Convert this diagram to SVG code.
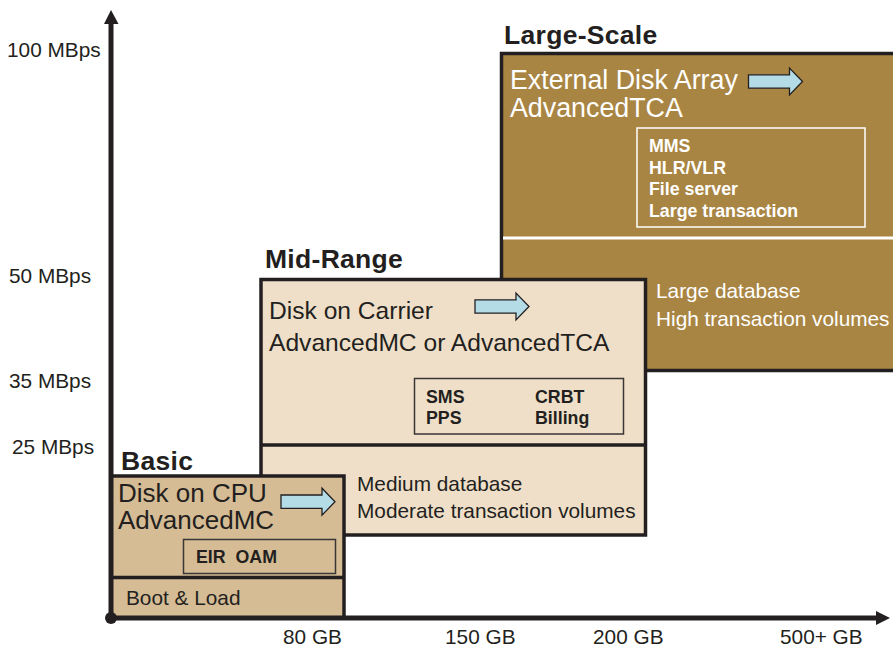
<svg xmlns="http://www.w3.org/2000/svg" width="893" height="648" viewBox="0 0 893 648">
<style>
text{font-family:"Liberation Sans",Arial,sans-serif;fill:#231F20}
.ax{font-size:20.8px}
.ttl{font-size:26.5px;font-weight:bold;letter-spacing:0.3px}
.big{font-size:26.8px}
.bas{font-size:26px}
.mid{font-size:24.6px}
.med{font-size:20.8px}
.b{font-size:17.8px;font-weight:bold}
.w{fill:#FFFFFF}
.box{stroke:#231F20;stroke-width:3.5}
.barrow{fill:#B3DCE7;stroke:#231F20;stroke-width:1.3}
</style>
<defs>
<path id="blk" d="M0,-6.7H41V-13.5L54,0L41,13.5V6.7H0Z"/>
</defs>
<rect width="893" height="648" fill="#FFFFFF"/>

<g id="large-scale">
<text class="ttl" x="504" y="44">Large-Scale</text>
<rect class="box" x="501.5" y="53.5" width="400" height="317" fill="#A98543" stroke-width="3"/>
<line x1="503" y1="238" x2="893" y2="238" stroke="#FFFFFF" stroke-width="3"/>
<text class="big w" x="510" y="89">External Disk Array</text>
<text class="big w" x="510" y="117">AdvancedTCA</text>
<use href="#blk" class="barrow" x="748.5" y="81.5"/>
<rect x="637" y="128" width="228" height="99" fill="none" stroke="#FFFFFF" stroke-width="1.5"/>
<text class="b w" x="649" y="152">MMS</text>
<text class="b w" x="649" y="173.5">HLR/VLR</text>
<text class="b w" x="649" y="195">File server</text>
<text class="b w" x="649" y="217">Large transaction</text>
<text class="med w" x="656" y="298">Large database</text>
<text class="med w" x="656" y="326">High transaction volumes</text>
</g>

<g id="mid-range">
<text class="ttl" x="265" y="268">Mid-Range</text>
<rect class="box" x="261" y="279.5" width="384.5" height="255.5" fill="#EFDFC8"/>
<line x1="261" y1="445" x2="645.5" y2="445" stroke="#231F20" stroke-width="3.5"/>
<text class="mid" x="269" y="319">Disk on Carrier</text>
<text class="mid" x="269" y="351">AdvancedMC or AdvancedTCA</text>
<use href="#blk" class="barrow" x="475" y="306.5"/>
<rect x="414.5" y="378.5" width="209" height="55.5" fill="none" stroke="#3A3536" stroke-width="1.5"/>
<text class="b" x="426" y="403">SMS</text>
<text class="b" x="426" y="424">PPS</text>
<text class="b" x="535" y="403">CRBT</text>
<text class="b" x="535" y="424">Billing</text>
<text class="med" x="357" y="491">Medium database</text>
<text class="med" x="357" y="518">Moderate transaction volumes</text>
</g>

<g id="basic">
<text class="ttl" x="121" y="470">Basic</text>
<rect class="box" x="111" y="476" width="233" height="142" fill="#D5BC95"/>
<line x1="111" y1="577.5" x2="344" y2="577.5" stroke="#231F20" stroke-width="3.5"/>
<text class="bas" x="118" y="502">Disk on CPU</text>
<text class="bas" x="118" y="529">AdvancedMC</text>
<use href="#blk" class="barrow" x="281" y="501.7"/>
<rect x="183.5" y="539.5" width="152" height="34" fill="none" stroke="#3A3536" stroke-width="1.5"/>
<text class="b" x="196" y="563" xml:space="preserve">EIR  OAM</text>
<text class="med" x="126" y="605">Boot &amp; Load</text>
</g>

<g id="connectors">
<line x1="111" y1="618" x2="111" y2="22" stroke="#231F20" stroke-width="5"/>
<path d="M104,24L111,10L118.5,24Z" fill="#231F20"/>
<line x1="111" y1="618" x2="878" y2="618" stroke="#231F20" stroke-width="5"/>
<path d="M876,611L890,618L876,625Z" fill="#231F20"/>
<circle cx="111" cy="618" r="6" fill="#231F20"/>
</g>

<g id="axis-labels">
<text class="ax" x="7" y="57">100 MBps</text>
<text class="ax" x="9" y="283">50 MBps</text>
<text class="ax" x="9" y="388">35 MBps</text>
<text class="ax" x="12" y="454">25 MBps</text>
<text class="ax" x="283" y="644">80 GB</text>
<text class="ax" x="445" y="644">150 GB</text>
<text class="ax" x="593" y="644">200 GB</text>
<text class="ax" x="780" y="644">500+ GB</text>
</g>
</svg>
